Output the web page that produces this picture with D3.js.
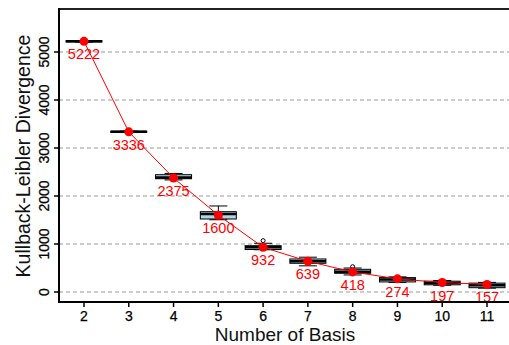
<!DOCTYPE html>
<html><head><meta charset="utf-8">
<script src="https://cdn.jsdelivr.net/npm/d3@7"></script>
<style>body{margin:0;background:#fff}svg{display:block}text{font-family:"Liberation Sans",Arial,sans-serif}</style>
</head><body><svg id="c" width="509" height="345"></svg>
<script>
const basis = [2,3,4,5,6,7,8,9,10,11];
const means = [5222,3336,2375,1600,932,639,418,274,197,157];
const whiskLo = [5208,3322,2335,1505,880,545,355,200,140,80];
const q1 = [5210,3324,2360,1521,885,598,390,210,150,90];
const medians = [5222,3336,2385,1625,930,640,420,262,190,140];
const q3 = [5236,3350,2444,1673,965,688,473,300,225,185];
const whiskHi = [5238,3352,2470,1792,1015,725,500,315,240,200];
const outliers = [[],[],[],[],[1070],[],[527],[],[],[]];
const yTicks = [0,1000,2000,3000,4000,5000];

const svg = d3.select("#c");
const x = d3.scaleLinear().domain([2,11]).range([84,487]);
const y = d3.scaleLinear().domain([0,5000]).range([292,52]);
const L = 59, R = 509, T = 9, B = 302;

// grid
svg.append("g").selectAll("line").data(yTicks).join("line")
  .attr("x1",L).attr("x2",R).attr("y1",d=>y(d)).attr("y2",d=>y(d))
  .attr("stroke","#999").attr("stroke-width",1).attr("stroke-dasharray","4,3");

// boxes
const bw = 36;
const g = svg.append("g");
basis.forEach((b,i)=>{
  const cx = x(b);
  g.append("line").attr("x1",cx).attr("x2",cx).attr("y1",y(whiskHi[i])).attr("y2",y(q3[i])).attr("stroke","#000");
  g.append("line").attr("x1",cx).attr("x2",cx).attr("y1",y(whiskLo[i])).attr("y2",y(q1[i])).attr("stroke","#000");
  g.append("line").attr("x1",cx-bw/4).attr("x2",cx+bw/4).attr("y1",y(whiskHi[i])).attr("y2",y(whiskHi[i])).attr("stroke","#000");
  g.append("line").attr("x1",cx-bw/4).attr("x2",cx+bw/4).attr("y1",y(whiskLo[i])).attr("y2",y(whiskLo[i])).attr("stroke","#000");
  g.append("rect").attr("x",cx-bw/2).attr("width",bw).attr("y",y(q3[i])).attr("height",Math.max(0.5,y(q1[i])-y(q3[i])))
    .attr("fill","#add8e6").attr("stroke","#000").attr("stroke-width",1);
  g.append("line").attr("x1",cx-bw/2).attr("x2",cx+bw/2).attr("y1",y(medians[i])).attr("y2",y(medians[i])).attr("stroke","#000").attr("stroke-width",2.5);
  outliers[i].forEach(o=>{
    g.append("circle").attr("cx",cx).attr("cy",y(o)).attr("r",2).attr("fill","none").attr("stroke","#000").attr("stroke-width",1);
  });
});

// mean line + points
svg.append("path").datum(basis.map((b,i)=>[b,means[i]]))
  .attr("d",d3.line().x(d=>x(d[0])).y(d=>y(d[1]))).attr("fill","none").attr("stroke","red").attr("stroke-width",1);
svg.append("g").selectAll("circle").data(means).join("circle")
  .attr("cx",(d,i)=>x(basis[i])).attr("cy",d=>y(d)).attr("r",4.5).attr("fill","red");

// clip for labels
svg.append("clipPath").attr("id","pc").append("rect").attr("x",L).attr("y",T).attr("width",R-L).attr("height",B-T-1);
svg.append("g").attr("clip-path","url(#pc)").selectAll("text").data(means).join("text")
  .attr("x",(d,i)=>x(basis[i])).attr("y",d=>y(d)+18).attr("text-anchor","middle")
  .attr("font-size",14.5).attr("fill","red").text(d=>d);

// axes lines
svg.append("line").attr("x1",L).attr("x2",R).attr("y1",T).attr("y2",T).attr("stroke","#222").attr("stroke-width",2);
svg.append("line").attr("x1",L).attr("x2",L).attr("y1",T-1).attr("y2",B+1).attr("stroke","#000").attr("stroke-width",2);
svg.append("line").attr("x1",L-1).attr("x2",R).attr("y1",B).attr("y2",B).attr("stroke","#000").attr("stroke-width",2);

// y ticks
const yt = svg.append("g");
yTicks.forEach(t=>{
  yt.append("line").attr("x1",L-5).attr("x2",L).attr("y1",y(t)).attr("y2",y(t)).attr("stroke","#000").attr("stroke-width",1.5);
  yt.append("text").attr("transform",`translate(49,${y(t)}) rotate(-90)`).attr("text-anchor","middle")
    .attr("font-size",14).attr("fill","#000").attr("stroke","#000").attr("stroke-width",0.25).text(t);
});
// x ticks
const xt = svg.append("g");
basis.forEach(b=>{
  xt.append("line").attr("x1",x(b)).attr("x2",x(b)).attr("y1",B).attr("y2",B+5).attr("stroke","#000").attr("stroke-width",1.5);
  xt.append("text").attr("x",x(b)).attr("y",321).attr("text-anchor","middle").attr("font-size",14).attr("fill","#000")
    .attr("stroke","#000").attr("stroke-width",0.25).text(b);
});

// titles
svg.append("text").attr("x",285).attr("y",341).attr("text-anchor","middle").attr("font-size",19).attr("fill","#111").text("Number of Basis");
svg.append("text").attr("transform","translate(30,156) rotate(-90)").attr("text-anchor","middle").attr("font-size",19.5).attr("fill","#111").text("Kullback-Leibler Divergence");
</script></body></html>
